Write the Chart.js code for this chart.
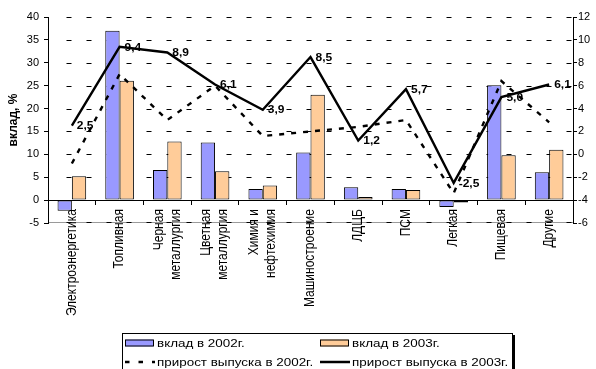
<!DOCTYPE html>
<html>
<head>
<meta charset="utf-8">
<script src="https://cdn.jsdelivr.net/npm/chart.js@4.4.1/dist/chart.umd.min.js"></script>
<style>
  html, body { margin: 0; padding: 0; background: #fff; }
  #wrap { position: relative; width: 596px; height: 369px; }
  #grid { position: absolute; left: 0; top: 0; z-index: 0; }
  #chart { position: absolute; left: 0; top: 0; z-index: 1; }
</style>
</head>
<body>
<div id="wrap">
  <canvas id="grid" width="596" height="369"></canvas>
  <canvas id="chart" width="596" height="369"></canvas>
</div>
<script>
// Industry categories (multi-line names are split into lines)
const categories = [
  ['Электроэнергетика'], ['Топливная'], ['Черная', 'металлургия'],
  ['Цветная', 'металлургия'], ['Химия и', 'нефтехимия'], ['Машиностроение'],
  ['ЛДЦБ'], ['ПСМ'], ['Легкая'], ['Пищевая'], ['Другие']
];
// Contribution, % (left axis)
const share2002 = [-2.3, 37.0, 6.6, 12.6, 2.4, 10.4, 2.8, 2.4, -1.5, 25.1, 6.1];
const share2003 = [5.2, 26.1, 12.8, 6.3, 3.2, 23.0, 0.7, 2.2, -0.5, 9.8, 11.0];
// Output growth (right axis)
const growth2002 = [-0.8, 7.0, 3.0, 6.0, 1.6, 2.0, 2.4, 3.0, -3.4, 6.4, 2.8];
const growth2003 = [2.5, 9.4, 8.9, 6.1, 3.9, 8.5, 1.2, 5.7, -2.5, 5.0, 6.1];
// Axis tick ranges: min, max, step
const leftTicks = [-5, 40, 5];
const rightTicks = [-6, 12, 2];

const seriesNames = ['вклад в 2002г.', 'вклад в 2003г.', 'прирост выпуска в 2002г.', 'прирост выпуска в 2003г.'];
const FONT = '"Liberation Sans", Arial, sans-serif';

function drawStretched(ctx, text, x, y, sx) {
  ctx.save();
  ctx.translate(x, y);
  ctx.scale(sx, 1);
  ctx.fillText(text, 0, 0);
  ctx.restore();
}

// Dashed horizontal grid on the canvas underneath the chart, placed with the left scale
function paintGrid(chart) {
  const g = document.getElementById('grid').getContext('2d');
  const {chartArea} = chart;
  const ys = chart.scales.y;
  g.clearRect(0, 0, 596, 369);
  const yb = Math.round(ys.getPixelForValue(leftTicks[0])) - 1;
  g.fillStyle = '#9a9a9a';
  g.fillRect(chartArea.left, yb, chartArea.right - chartArea.left, 1);
  g.fillStyle = '#000';
  for (let v = leftTicks[0]; v <= leftTicks[1]; v += leftTicks[2]) {
    const y = v === leftTicks[0] ? yb : Math.round(ys.getPixelForValue(v));
    for (let x = chartArea.left + 18.5; x < chartArea.right; x += 20) {
      g.fillRect(x, y, Math.min(5, chartArea.right - x), 1);
    }
  }
}

const gridPainter = {
  id: 'gridPainter',
  afterRender(chart) { paintGrid(chart); }
};

// Value labels on the 2003 growth line
const valueLabels = {
  id: 'valueLabels',
  afterDraw(chart) {
    const ctx = chart.ctx;
    const meta = chart.getDatasetMeta(3);
    ctx.save();
    ctx.font = 'bold 10px ' + FONT;
    ctx.fillStyle = '#000';
    ctx.textAlign = 'left';
    ctx.textBaseline = 'middle';
    meta.data.forEach((pt, i) => {
      const txt = growth2003[i].toFixed(1).replace('.', ',');
      drawStretched(ctx, txt, pt.x + 5, pt.y + 1, 1.2);
    });
    ctx.restore();
  }
};

// Category names, rotated, hanging under the zero line
const categoryLabels = {
  id: 'categoryLabels',
  afterDraw(chart) {
    const xs = chart.scales.x, ys = chart.scales.y, ctx = chart.ctx;
    const top = ys.getPixelForValue(0) + 9;
    const lh = 17;
    ctx.save();
    ctx.font = '12px ' + FONT;
    ctx.fillStyle = '#000';
    ctx.textAlign = 'right';
    ctx.textBaseline = 'middle';
    categories.forEach((lines, i) => {
      const cx = xs.getPixelForValue(i);
      lines.forEach((line, j) => {
        const off = (j - (lines.length - 1) / 2) * lh;
        ctx.save();
        ctx.translate(cx + off, top);
        ctx.rotate(-Math.PI / 2);
        ctx.scale(1, 1.15);
        ctx.fillText(line, 0, 0);
        ctx.restore();
      });
    });
    ctx.restore();
  }
};

// Boxed two-column legend
const boxLegend = {
  id: 'boxLegend',
  afterDraw(chart) {
    const ctx = chart.ctx;
    const ds = chart.data.datasets;
    ctx.save();
    ctx.strokeStyle = '#000';
    ctx.lineWidth = 1;
    ctx.strokeRect(122.5, 333.5, 390, 44);
    ctx.fillStyle = '#000';
    ctx.fillRect(513, 335, 2, 40);

    const cols = [125, 320];
    const rows = [343, 362];
    ctx.font = '11px ' + FONT;
    ctx.textAlign = 'left';
    ctx.textBaseline = 'middle';
    ds.forEach((d, k) => {
      const x = cols[k % 2], y = rows[Math.floor(k / 2)];
      if (d.type === 'bar') {
        ctx.fillStyle = d.backgroundColor;
        ctx.fillRect(x, y - 3.5, 28, 7);
        ctx.strokeStyle = '#000';
        ctx.lineWidth = 1;
        ctx.strokeRect(x + 0.5, y - 3, 28, 6);
      } else {
        ctx.strokeStyle = d.borderColor;
        ctx.lineWidth = 2.5;
        ctx.setLineDash(d.borderDash ? [4.5, 9] : []);
        ctx.beginPath();
        ctx.moveTo(x, y);
        ctx.lineTo(x + 30, y);
        ctx.stroke();
        ctx.setLineDash([]);
      }
      ctx.fillStyle = '#000';
      drawStretched(ctx, d.label, x + 32, y + 0.5, 1.22);
    });
    ctx.restore();
  }
};

const chart = new Chart(document.getElementById('chart'), {
  data: {
    labels: categories.map(c => c.join(' ')),
    datasets: [
      { type: 'bar', label: seriesNames[0], data: share2002, yAxisID: 'y', order: 2,
        backgroundColor: '#9999FF', borderColor: '#000', borderWidth: 1, borderSkipped: false,
        barPercentage: 1, categoryPercentage: 0.6 },
      { type: 'bar', label: seriesNames[1], data: share2003, yAxisID: 'y', order: 2,
        backgroundColor: '#FFCC99', borderColor: '#000', borderWidth: 1, borderSkipped: false,
        barPercentage: 1, categoryPercentage: 0.6 },
      { type: 'line', label: seriesNames[2], data: growth2002, yAxisID: 'y1', order: 1,
        borderColor: '#000', borderWidth: 2.4, borderDash: [5, 7], pointRadius: 0, tension: 0, fill: false },
      { type: 'line', label: seriesNames[3], data: growth2003, yAxisID: 'y1', order: 0,
        borderColor: '#000', borderWidth: 2.4, pointRadius: 0, tension: 0, fill: false }
    ]
  },
  options: {
    responsive: false,
    animation: false,
    devicePixelRatio: 1,
    layout: { padding: { top: 17, bottom: 146, left: 0, right: 0 } },
    plugins: { legend: { display: false }, tooltip: { enabled: false } },
    scales: {
      x: {
        position: { y: 0 },
        offset: true,
        ticks: { display: false },
        grid: { drawOnChartArea: false, drawTicks: true, tickLength: 4, color: '#000', offset: true },
        border: { display: true, color: '#000', width: 1 }
      },
      y: {
        position: 'left',
        min: leftTicks[0], max: leftTicks[1],
        ticks: { stepSize: leftTicks[2], color: '#000', font: { size: 11, family: FONT }, padding: 5 },
        grid: { drawOnChartArea: false, color: '#000', tickColor: '#000', tickLength: 4, lineWidth: 1 },
        border: { display: true, color: '#000', width: 1 },
        title: { display: true, text: 'вклад, %', color: '#000',
                 font: { size: 12, weight: 'bold', family: FONT }, padding: { top: 6, bottom: 0 } },
        afterFit(scale) { scale.width = 48; }
      },
      y1: {
        position: 'right',
        min: rightTicks[0], max: rightTicks[1],
        ticks: { stepSize: rightTicks[2], color: '#000', font: { size: 11, family: FONT }, padding: 1 },
        grid: { drawOnChartArea: false, tickLength: 4, color: '#000' },
        border: { display: true, color: '#000', width: 1 },
        afterFit(scale) { scale.width = 23; }
      }
    }
  },
  plugins: [gridPainter, valueLabels, categoryLabels, boxLegend]
});
paintGrid(chart);
</script>
</body>
</html>
